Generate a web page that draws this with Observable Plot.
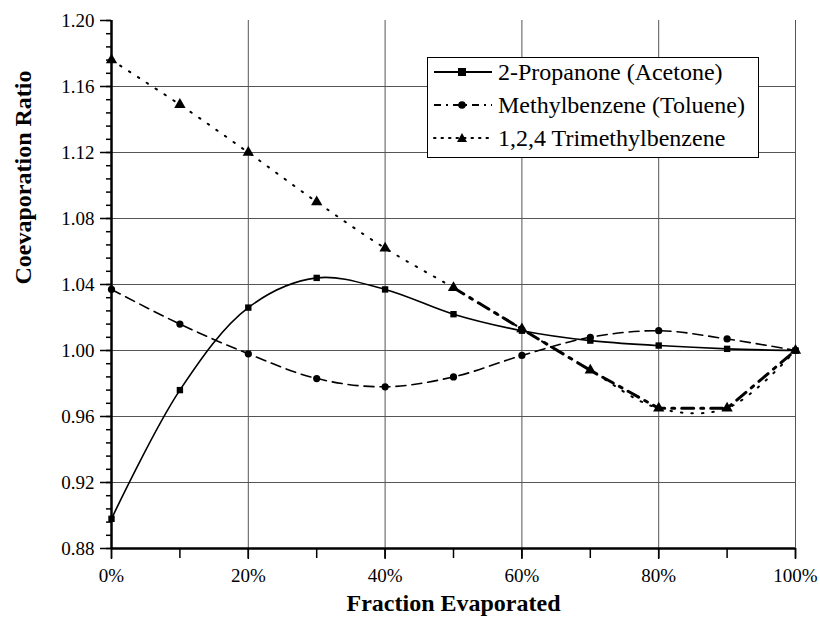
<!DOCTYPE html>
<html><head><meta charset="utf-8">
<script src="https://cdn.jsdelivr.net/npm/d3@7"></script>
<script src="https://cdn.jsdelivr.net/npm/@observablehq/plot@0.6"></script>
<style>
body{margin:0;background:#fff;font-family:'Liberation Serif',serif;}
#wrap{position:relative;width:820px;height:624px;}
#legend{position:absolute;left:427px;top:57px;width:332px;height:101px;border:1.5px solid #000;background:#fff;box-sizing:border-box;}
.row{position:absolute;left:5px;height:30px;display:flex;align-items:center;font-size:24px;color:#000;font-family:'Liberation Serif',serif;white-space:nowrap;}
.row svg{margin-right:5px;}
</style></head><body>
<div id="wrap"><div id="legend"></div></div>
<script>
const fractions = [0,10,20,30,40,50,60,70,80,90,100];
const acetone = [0.898,0.976,1.026,1.044,1.037,1.022,1.012,1.006,1.003,1.001,1.000];
const toluene = [1.037,1.016,0.998,0.983,0.978,0.984,0.997,1.008,1.012,1.007,1.000];
const trimethyl = [1.176,1.149,1.120,1.090,1.062,1.038,1.013,0.988,0.965,0.965,1.000];
const seriesNames = ["2-Propanone (Acetone)","Methylbenzene (Toluene)","1,2,4 Trimethylbenzene"];
const yMajor = [0.88,0.92,0.96,1.00,1.04,1.08,1.12,1.16,1.20];
const xMajor = [0,20,40,60,80,100];

const rows = (vals) => fractions.map((f,i)=>({x:f,y:vals[i]}));
const A = rows(acetone), T = rows(toluene), M = rows(trimethyl);
const Mtail = M.filter(d=>d.x>=50);
const yMinor = d3.range(0,41).map(i=>+(0.88+i*0.008).toFixed(3));
const xMinor = d3.range(0,11).map(i=>i*10);
const FONT = "'Liberation Serif', serif";

const chart = Plot.plot({
  width:820, height:624,
  marginLeft:111, marginRight:25, marginTop:20, marginBottom:76,
  style:{fontFamily:FONT, background:"#fff", color:"#000"},
  x:{domain:[0,100]},
  y:{domain:[0.88,1.20]},
  marks:[
    Plot.ruleY(yMajor.filter(v=>v>0.88 && v<1.2), {stroke:"#555", strokeWidth:1}),
    Plot.ruleX(xMajor.filter(v=>v>0), {stroke:"#555", strokeWidth:1}),
    Plot.line(A,{x:"x",y:"y",curve:"catmull-rom",stroke:"#000",strokeWidth:1.6}),
    Plot.line(T,{x:"x",y:"y",curve:"catmull-rom",stroke:"#000",strokeWidth:1.6,strokeDasharray:"10,6"}),
    Plot.line(M,{x:"x",y:"y",curve:"catmull-rom",stroke:"#000",strokeWidth:2,strokeDasharray:"1.5,9",strokeLinecap:"round"}),
    Plot.line(Mtail,{x:"x",y:"y",stroke:"#000",strokeWidth:3,strokeDasharray:"12,7,3,7"}),
    Plot.dot(A,{x:"x",y:"y",symbol:"square",r:3.6,fill:"#000"}),
    Plot.dot(T,{x:"x",y:"y",symbol:"circle",r:3.6,fill:"#000"}),
    Plot.dot(M,{x:"x",y:"y",symbol:"triangle",r:4.2,fill:"#000"}),
    Plot.axisY({ticks:yMajor, tickFormat:d3.format(".2f"), tickSize:11, tickPadding:6, fontSize:19, label:null, strokeWidth:1.5}),
    Plot.axisY({ticks:yMinor, tickFormat:()=>"", tickSize:5, label:null, strokeWidth:1.5}),
    Plot.axisX({ticks:xMajor, tickFormat:d=>d+"%", tickSize:11, tickPadding:9, fontSize:19, label:null, strokeWidth:1.5}),
    Plot.axisX({ticks:xMinor, tickFormat:()=>"", tickSize:10, label:null, strokeWidth:1.5}),
    Plot.ruleX([0],{stroke:"#000",strokeWidth:2.5}),
    Plot.ruleY([0.88],{stroke:"#000",strokeWidth:2.5}),
    Plot.text(["Coevaporation Ratio"],{frameAnchor:"left",dx:-88,rotate:-90,fontSize:24,fontWeight:"bold",fill:"#000"}),
    Plot.text(["Fraction Evaporated"],{frameAnchor:"bottom",dy:62,fontSize:24,fontWeight:"bold",fill:"#000"})
  ]
});
document.getElementById("wrap").prepend(chart);

const legend = document.getElementById("legend");
const samples = [
  {dash:"", marker:'<rect x="25" y="11" width="8" height="8" fill="#000"/>'},
  {dash:"7,5,2,5", marker:'<circle cx="29" cy="15" r="3.8" fill="#000"/>'},
  {dash:"1.5,6", marker:'<path d="M29,10 L34,19 L24,19 Z" fill="#000"/>'}
];
seriesNames.forEach((name,i)=>{
  const r = document.createElement("div");
  r.className="row";
  r.style.top = (-1 + i*33)+"px";
  const s = samples[i];
  r.innerHTML = `<svg width="60" height="30"><line x1="1" y1="15" x2="59" y2="15" stroke="#000" stroke-width="${i==2?2:2}" ${s.dash?`stroke-dasharray="${s.dash}"`:""} stroke-linecap="${i==2?'round':'butt'}"/>${s.marker}</svg><span>${name}</span>`;
  legend.appendChild(r);
});
</script>
</body></html>
